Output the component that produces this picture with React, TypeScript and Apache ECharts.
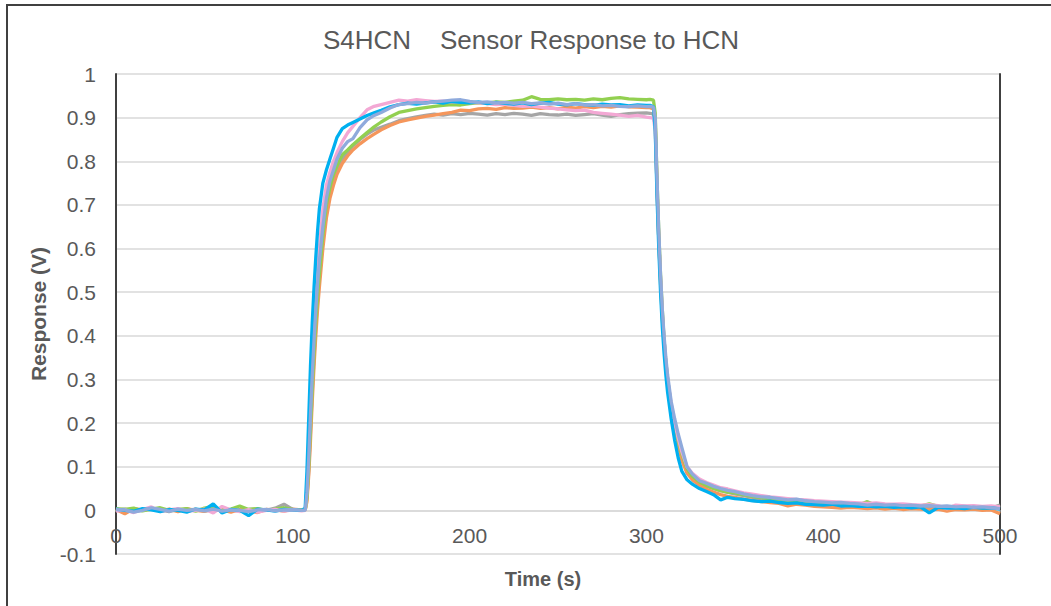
import React, { useEffect, useRef } from "react";
import * as echarts from "echarts";

const TITLE = "S4HCN    Sensor Response to HCN";
const X_NAME = "Time (s)";
const Y_NAME = "Response (V)";

const xTicks = [0, 100, 200, 300, 400, 500];

const times = [
  0, 5, 10, 15, 20, 25, 30, 35, 40, 45, 50, 55, 60, 65, 70, 75, 80, 85, 90, 95, 100, 105,
  107, 108, 109, 110, 111, 112, 113, 114, 115, 117, 119, 121, 123, 125, 128, 131, 134, 138, 142, 146, 150,
  155, 160, 165, 170, 175, 180, 185, 190, 195, 200, 205, 210, 215, 220, 225, 230, 235, 240, 245, 250,
  255, 260, 265, 270, 275, 280, 285, 290, 295, 300,
  302, 304, 305, 306, 307, 308, 309, 310, 311, 312, 314, 316, 318, 320, 323, 326, 330, 334, 338, 342, 346, 350,
  355, 360, 365, 370, 375, 380, 385, 390, 395, 400, 405, 410, 415, 420, 425, 430, 435, 440, 445, 450,
  455, 460, 465, 470, 475, 480, 485, 490, 495, 500,
];

const grayVals = [
  0.001, 0.003, -0.002, 0.0, 0.004, 0.001, -0.003, 0.002, 0.0, 0.003, -0.002, 0.001, 0.004, 0.0, -0.001, 0.002, 0.003, 0.0, 0.005, 0.014, 0.002, 0.0,
  0.0, 0.03, 0.09, 0.18, 0.27, 0.35, 0.42, 0.48, 0.53, 0.62, 0.68, 0.725, 0.755, 0.78, 0.805, 0.82, 0.835, 0.85, 0.862, 0.872, 0.878,
  0.885, 0.893, 0.898, 0.902, 0.905, 0.908, 0.906, 0.909, 0.907, 0.91, 0.908, 0.906, 0.909, 0.907, 0.91, 0.908, 0.905, 0.909, 0.907, 0.906,
  0.908, 0.905, 0.907, 0.909, 0.906, 0.903, 0.907, 0.909, 0.91, 0.911,
  0.91, 0.908, 0.88, 0.74, 0.62, 0.53, 0.45, 0.39, 0.34, 0.3, 0.24, 0.195, 0.16, 0.13, 0.095, 0.078, 0.064, 0.055, 0.05, 0.045, 0.041, 0.038,
  0.034, 0.03, 0.027, 0.025, 0.022, 0.02, 0.019, 0.017, 0.016, 0.015, 0.013, 0.014, 0.012, 0.011, 0.012, 0.01, 0.011, 0.009, 0.01, 0.008,
  0.009, 0.007, 0.008, 0.007, 0.006, 0.008, 0.006, 0.007, 0.005, 0.012,
];

const orangeVals = [
  0.002, -0.008, 0.004, 0.001, 0.006, -0.002, 0.003, -0.003, 0.004, 0.0, -0.002, 0.003, 0.001, -0.004, 0.002, 0.0, -0.005, 0.002, 0.001, -0.002, 0.003, 0.001,
  0.0, 0.02, 0.08, 0.16, 0.25, 0.33, 0.4, 0.46, 0.51, 0.6, 0.67, 0.715, 0.745, 0.77, 0.795, 0.812, 0.826, 0.84, 0.852, 0.862, 0.872,
  0.882, 0.89, 0.895, 0.899, 0.903, 0.906, 0.909, 0.912, 0.917, 0.916, 0.92, 0.921, 0.919, 0.923, 0.921, 0.922, 0.924, 0.921, 0.923, 0.92,
  0.924, 0.922, 0.925, 0.923, 0.926, 0.924, 0.927, 0.925, 0.924, 0.923,
  0.923, 0.92, 0.89, 0.74, 0.62, 0.52, 0.44, 0.38, 0.33, 0.29, 0.23, 0.19, 0.15, 0.115, 0.085, 0.07, 0.058, 0.048, 0.042, 0.036, 0.032, 0.03,
  0.026, 0.023, 0.02, 0.018, 0.016, 0.01, 0.014, 0.012, 0.009, 0.008, 0.007, 0.005, 0.007, 0.006, 0.004, 0.006, 0.003, 0.005, 0.002, 0.004,
  0.003, 0.001, 0.003, -0.002, 0.002, 0.001, 0.003, 0.0, 0.001, -0.008,
];

const greenVals = [
  0.004, 0.002, 0.005, -0.001, 0.003, 0.006, 0.0, 0.002, 0.004, -0.002, 0.005, 0.009, 0.001, 0.003, 0.01, 0.002, 0.004, 0.0, 0.003, 0.006, 0.002, 0.001,
  0.0, 0.03, 0.1, 0.19, 0.28, 0.36, 0.43, 0.49, 0.54, 0.63, 0.7, 0.74, 0.77, 0.79, 0.815, 0.826, 0.838, 0.852, 0.866, 0.879, 0.89,
  0.902, 0.912, 0.916, 0.92, 0.923, 0.926, 0.928, 0.93, 0.929, 0.932, 0.934, 0.933, 0.936, 0.935, 0.938, 0.94, 0.948, 0.942, 0.941, 0.943,
  0.941, 0.942, 0.94, 0.943, 0.941, 0.944, 0.946, 0.943, 0.942, 0.941,
  0.942, 0.94, 0.91, 0.76, 0.64, 0.54, 0.46, 0.39, 0.34, 0.3, 0.24, 0.195, 0.16, 0.13, 0.095, 0.078, 0.065, 0.057, 0.05, 0.045, 0.042, 0.04,
  0.036, 0.032, 0.029, 0.027, 0.024, 0.022, 0.021, 0.019, 0.017, 0.016, 0.015, 0.013, 0.014, 0.012, 0.02, 0.011, 0.012, 0.01, 0.011, 0.009,
  0.01, 0.015, 0.009, 0.008, 0.009, 0.007, 0.008, 0.006, 0.007, 0.006,
];

const pinkVals = [
  -0.002, 0.001, -0.005, 0.002, 0.008, -0.003, 0.001, 0.004, -0.002, 0.0, 0.003, -0.006, 0.009, 0.001, -0.003, 0.002, -0.004, 0.0, 0.002, -0.002, 0.001, -0.001,
  0.0, 0.05, 0.14, 0.25, 0.34, 0.42, 0.49, 0.55, 0.6, 0.69, 0.745, 0.775, 0.8, 0.82, 0.845, 0.865, 0.88, 0.9, 0.918, 0.926, 0.93,
  0.935, 0.94, 0.938, 0.941, 0.939, 0.937, 0.938, 0.936, 0.937, 0.935, 0.934, 0.932, 0.93, 0.931, 0.928, 0.926, 0.927, 0.924, 0.922, 0.92,
  0.918, 0.916, 0.917, 0.912, 0.91, 0.908, 0.906, 0.903, 0.905, 0.901,
  0.9, 0.899, 0.87, 0.74, 0.62, 0.53, 0.45, 0.39, 0.34, 0.3, 0.245, 0.2, 0.165, 0.135, 0.1, 0.085, 0.072, 0.064, 0.058, 0.052, 0.049, 0.045,
  0.04, 0.037, 0.034, 0.031, 0.029, 0.027, 0.025, 0.024, 0.022, 0.021, 0.02, 0.019, 0.018, 0.017, 0.016, 0.017, 0.015, 0.014, 0.015, 0.013,
  0.012, 0.013, 0.011, 0.004, 0.012, 0.01, 0.011, 0.009, 0.01, 0.008,
];

const cyanVals = [
  0.003, 0.0, -0.002, 0.004, 0.001, -0.003, 0.002, 0.0, -0.004, 0.003, 0.001, 0.015, -0.006, 0.002, 0.0, -0.012, 0.003, 0.001, -0.002, 0.002, 0.001, 0.0,
  0.005, 0.09, 0.21, 0.33, 0.43, 0.51, 0.58, 0.64, 0.69, 0.75, 0.78, 0.805, 0.83, 0.855, 0.875, 0.883, 0.889, 0.897, 0.905, 0.911, 0.917,
  0.925, 0.93, 0.933, 0.931, 0.934, 0.936, 0.933, 0.937, 0.935, 0.934, 0.936, 0.932, 0.935, 0.933, 0.931, 0.934, 0.93, 0.933, 0.935, 0.931,
  0.929, 0.932, 0.93, 0.928, 0.931, 0.929, 0.93, 0.927, 0.929, 0.928,
  0.928, 0.925, 0.87, 0.72, 0.6, 0.5, 0.42, 0.36, 0.31, 0.27, 0.21, 0.16, 0.12, 0.09, 0.07, 0.06, 0.05, 0.043, 0.036, 0.024, 0.03, 0.027,
  0.025, 0.022, 0.02, 0.021, 0.018, 0.016, 0.017, 0.014, 0.013, 0.012, 0.014, 0.01, 0.011, 0.009, 0.01, 0.008, 0.009, 0.007, 0.008, 0.006,
  0.008, -0.006, 0.007, 0.005, 0.006, 0.004, 0.007, 0.005, 0.006, 0.003,
];

const lavenderVals = [
  0.002, 0.001, -0.004, 0.0, 0.006, 0.002, -0.002, 0.003, 0.0, 0.002, -0.001, 0.003, -0.002, 0.001, 0.0, -0.003, 0.001, 0.002, -0.001, 0.001, 0.002, 0.0,
  0.0, 0.04, 0.12, 0.22, 0.31, 0.39, 0.46, 0.52, 0.57, 0.65, 0.715, 0.755, 0.78, 0.805, 0.83, 0.845, 0.852, 0.877, 0.895, 0.905, 0.912,
  0.922, 0.93, 0.932, 0.935, 0.933, 0.936, 0.938, 0.94, 0.941, 0.937, 0.935, 0.936, 0.934, 0.935, 0.933, 0.935, 0.932, 0.934, 0.931, 0.933,
  0.93, 0.932, 0.929, 0.93, 0.927, 0.928, 0.926, 0.925, 0.927, 0.925,
  0.926, 0.924, 0.9, 0.76, 0.64, 0.54, 0.46, 0.4, 0.35, 0.31, 0.25, 0.21, 0.175, 0.145, 0.1, 0.083, 0.068, 0.062, 0.055, 0.05, 0.046, 0.043,
  0.038, 0.034, 0.031, 0.03, 0.027, 0.024, 0.026, 0.022, 0.02, 0.019, 0.017, 0.018, 0.016, 0.015, 0.012, 0.014, 0.012, 0.013, 0.011, 0.012,
  0.01, 0.011, 0.009, 0.01, 0.008, 0.009, 0.007, 0.008, 0.006, 0.004,
];

const seriesDefs = [
  { name: "Gray", color: "#A5A5A5", values: grayVals },
  { name: "Orange", color: "#F5965B", values: orangeVals },
  { name: "Green", color: "#92D050", values: greenVals },
  { name: "Pink", color: "#F3A8D4", values: pinkVals },
  { name: "Cyan", color: "#00B0F0", values: cyanVals },
  { name: "Lavender", color: "#8FAADC", values: lavenderVals },
];

const FONT = "'Liberation Sans', Arial, sans-serif";
const TEXT_COLOR = "#595959";

export default function App() {
  const ref = useRef<HTMLDivElement>(null);

  useEffect(() => {
    if (!ref.current) return;
    const chart = echarts.init(ref.current, undefined, { renderer: "svg" });
    const option = {
      animation: false,
      backgroundColor: "#ffffff",
      textStyle: { fontFamily: FONT },
      grid: { left: 116, right: 51, top: 74, bottom: 52, containLabel: false },
      xAxis: {
        type: "value",
        min: xTicks[0],
        max: xTicks[xTicks.length - 1],
        interval: 100,
        axisLine: { show: true, lineStyle: { color: "#D9D9D9", width: 1.5 } },
        axisTick: { show: false },
        splitLine: { show: false },
        axisLabel: {
          inside: true,
          margin: 8,
          color: TEXT_COLOR,
          fontSize: 21,
          fontFamily: FONT,
        },
      },
      yAxis: [
        {
          type: "value",
          min: -0.1,
          max: 1,
          interval: 0.1,
          name: Y_NAME,
          nameLocation: "middle",
          nameGap: 66,
          nameRotate: 90,
          nameTextStyle: { color: TEXT_COLOR, fontSize: 21, fontWeight: "bold", fontFamily: FONT },
          axisLine: { show: true, lineStyle: { color: "#404040", width: 2 } },
          axisTick: { show: false },
          splitLine: { show: true, lineStyle: { color: "#D9D9D9", width: 1.5 } },
          axisLabel: { margin: 20, color: TEXT_COLOR, fontSize: 21, fontFamily: FONT },
        },
        {
          type: "value",
          min: -0.1,
          max: 1,
          interval: 0.1,
          position: "right",
          axisLine: { show: true, lineStyle: { color: "#404040", width: 2 } },
          axisTick: { show: false },
          splitLine: { show: false },
          axisLabel: { show: false },
        },
      ],
      graphic: [
        {
          type: "rect",
          silent: true,
          z: -1,
          shape: { x: 7, y: 5, width: 1100, height: 700 },
          style: { fill: "none", stroke: "#404040", lineWidth: 2 },
        },
        {
          type: "text",
          x: 531,
          y: 40,
          style: {
            text: TITLE,
            fill: TEXT_COLOR,
            font: `26px ${FONT}`,
            textAlign: "center",
            textVerticalAlign: "middle",
          },
        },
        {
          type: "text",
          x: 543,
          y: 579,
          style: {
            text: X_NAME,
            fill: TEXT_COLOR,
            font: `bold 20px ${FONT}`,
            textAlign: "center",
            textVerticalAlign: "middle",
          },
        },
      ],
      series: seriesDefs.map((s) => ({
        name: s.name,
        type: "line",
        yAxisIndex: 0,
        showSymbol: false,
        symbol: "none",
        smooth: false,
        lineStyle: { color: s.color, width: 3.3 },
        itemStyle: { color: s.color },
        data: times.map((t, i) => [t, s.values[i]]),
      })),
    };
    chart.setOption(option);
    return () => chart.dispose();
  }, []);

  return (
    <div
      ref={ref}
      style={{ position: "fixed", left: 0, top: 0, width: 1051, height: 606, background: "#fff" }}
    />
  );
}
